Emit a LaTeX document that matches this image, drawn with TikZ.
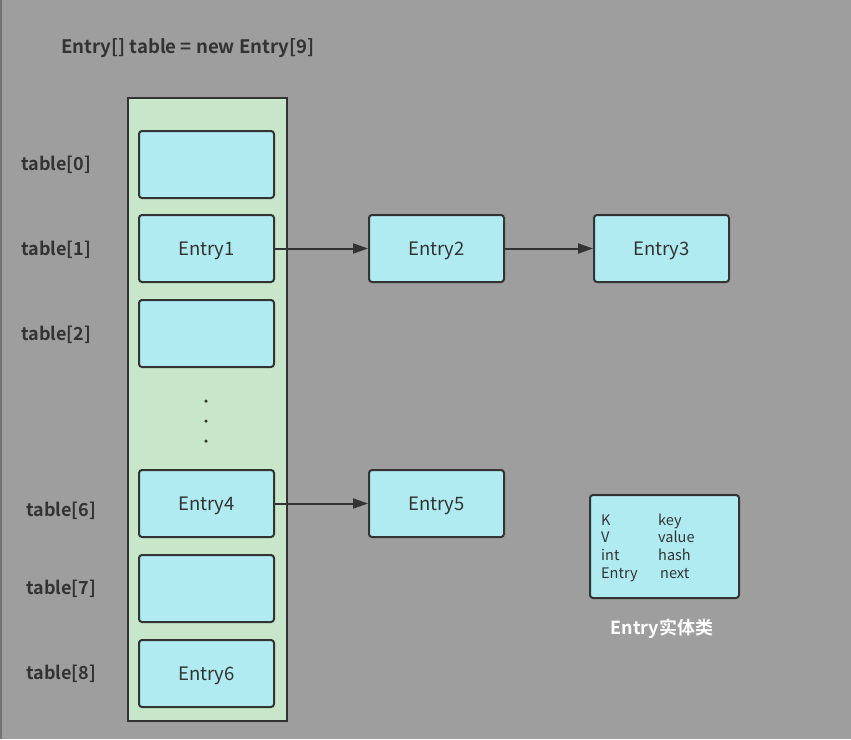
\documentclass[tikz,border=0pt]{standalone}
\usepackage{fontspec}
\setmainfont{Noto Sans CJK SC}[BoldFont={Noto Sans CJK SC Bold}]
\newfontfamily\cjk{Noto Sans CJK SC}[BoldFont={Noto Sans CJK SC Bold}]
\usetikzlibrary{arrows.meta}
\definecolor{bg}{HTML}{9E9E9E}
\definecolor{ink}{HTML}{333333}
\definecolor{colgreen}{HTML}{C8E6C9}
\definecolor{cellblue}{HTML}{B1EBF2}
\tikzset{
  cell/.style={draw=ink, line width=2pt, fill=cellblue, rounded corners=3pt,
    minimum width=135pt, minimum height=67pt, inner sep=0pt, font=\fontsize{18.5}{22}\selectfont, text=ink,
    text height=13.5pt, text depth=0pt},
  idx/.style={font=\bfseries\fontsize{18}{20}\selectfont, text=ink, anchor=west, inner sep=0pt,
    text height=13pt, text depth=0pt},
  link/.style={draw=ink, line width=2pt, -{Triangle[length=15pt,width=10pt]}},
  legtxt/.style={font=\fontsize{14.5}{16}\selectfont, text=ink, anchor=west, inner sep=0pt,
    text height=10.5pt, text depth=0pt},
  dot/.style={circle, fill=ink, inner sep=0pt, minimum size=3.5pt}
}
\begin{document}
\begin{tikzpicture}[x=1pt,y=-1pt]
\fill[bg] (0,0) rectangle (851,739);
\useasboundingbox (0,0) rectangle (851,739);
\draw[color=black!55, line width=1.5pt] (1,0) -- (1,739);
\node[font=\bfseries\fontsize{18.6}{20}\selectfont, text=ink, anchor=west, inner sep=0pt, text height=13.6pt, text depth=0pt] (title) at (61,47) {Entry[] table = new Entry[9]};
\node[draw=ink, line width=2pt, fill=colgreen, minimum width=159pt, minimum height=623pt, inner sep=0pt] (col) at (207.5,409.5) {};
\node[cell] (t0) at (206.5,164.5) {};
\node[cell] (t1) at (206.5,248.5) {Entry1};
\node[cell] (t2) at (206.5,333.5) {};
\node[cell] (t6) at (206.5,503.5) {Entry4};
\node[cell] (t7) at (206.5,588.5) {};
\node[cell] (t8) at (206.5,673.5) {Entry6};
\node[cell] (e2) at (436.5,248.5) {Entry2};
\node[cell] (e3) at (661.5,248.5) {Entry3};
\node[cell] (e5) at (436.5,503.5) {Entry5};
\node[dot] (d1) at (206,401) {};
\node[dot] (d2) at (206,421) {};
\node[dot] (d3) at (206,441) {};
\draw[link] (t1) -- (e2);
\draw[link] (e2) -- (e3);
\draw[link] (t6) -- (e5);
\node[idx] (l0) at (21,164) {table[0]};
\node[idx] (l1) at (21,249) {table[1]};
\node[idx] (l2) at (21,334) {table[2]};
\node[idx] (l6) at (26,510) {table[6]};
\node[idx] (l7) at (26,588) {table[7]};
\node[idx] (l8) at (26,673) {table[8]};
\node[draw=ink, line width=2pt, fill=cellblue, rounded corners=3pt, minimum width=149pt, minimum height=103pt, inner sep=0pt] (leg) at (664.5,546.5) {};
\node[legtxt] (k1) at (601,520) {K};
\node[legtxt] (k2) at (601,537) {V};
\node[legtxt] (k3) at (601,555) {int};
\node[legtxt] (k4) at (601,573) {Entry};
\node[legtxt] (v1) at (658,520) {key};
\node[legtxt] (v2) at (658,537) {value};
\node[legtxt] (v3) at (658,555) {hash};
\node[legtxt] (v4) at (660,573) {next};
\node[font=\cjk\bfseries\fontsize{18}{20}\selectfont, text=white, inner sep=0pt] (cap) at (662,629) {Entry实体类};
\end{tikzpicture}
\end{document}
